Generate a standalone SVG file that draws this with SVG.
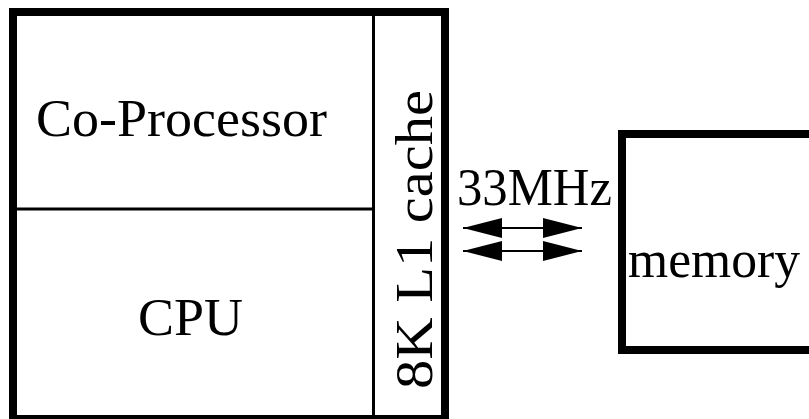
<svg xmlns="http://www.w3.org/2000/svg" width="809" height="419" viewBox="0 0 809 419">
<style>
.box{fill:none;stroke:#000;stroke-width:8}
.div{fill:none;stroke:#000;stroke-width:3}
.lbl{font-family:"Liberation Serif","Times New Roman",serif;font-size:53px;fill:#000}
.arr{stroke:#000;stroke-width:2;marker-start:url(#head);marker-end:url(#head)}
</style>
<defs>
<marker id="head" markerUnits="userSpaceOnUse" viewBox="0 0 39 20" refX="39" refY="10" markerWidth="39" markerHeight="20" orient="auto-start-reverse">
<path d="M0,0 L39,10 L0,20 z" fill="#000"/>
</marker>
</defs>
<rect width="809" height="419" fill="#fff"/>
<g id="cpu-chip">
<rect class="box" x="13" y="12" width="432" height="407"/>
<line class="div" x1="373.5" y1="16" x2="373.5" y2="415"/>
<line class="div" x1="17" y1="209" x2="372" y2="209"/>
</g>
<g id="coprocessor">
<text class="lbl" x="36" y="136" textLength="291" lengthAdjust="spacingAndGlyphs">Co-Processor</text>
</g>
<g id="cpu">
<text class="lbl" x="138" y="335" textLength="105" lengthAdjust="spacingAndGlyphs">CPU</text>
</g>
<g id="cache">
<text class="lbl" transform="translate(432,389) rotate(-90)" x="0" y="0" textLength="299" lengthAdjust="spacingAndGlyphs">8K L1 cache</text>
</g>
<g id="memory">
<rect class="box" x="622" y="134" width="200" height="216"/>
<text class="lbl" x="628" y="277" textLength="172" lengthAdjust="spacingAndGlyphs">memory</text>
</g>
<g id="connectors">
<line class="arr" x1="463" y1="228" x2="582" y2="228"/>
<line class="arr" x1="463" y1="251" x2="582" y2="251"/>
<text class="lbl" x="457" y="205" textLength="155" lengthAdjust="spacingAndGlyphs">33MHz</text>
</g>
</svg>
